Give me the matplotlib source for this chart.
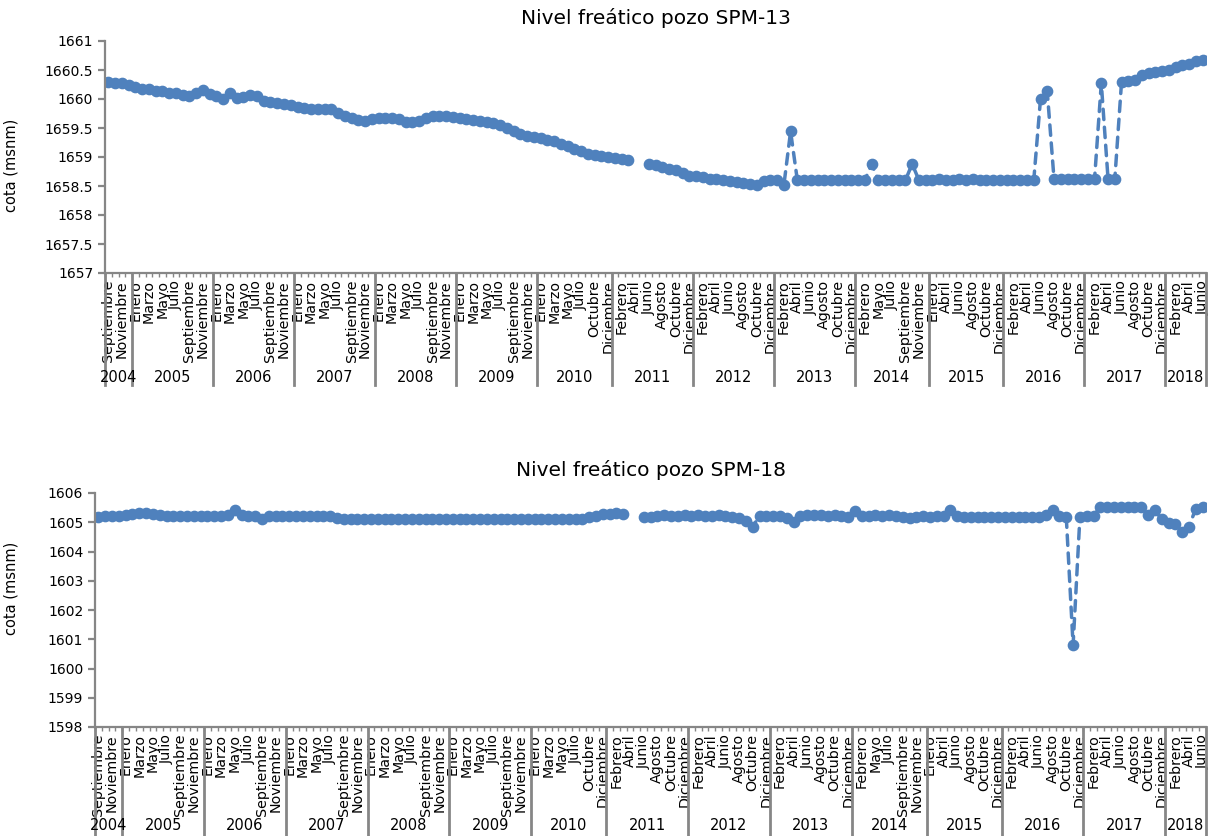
import numpy as np
import matplotlib.pyplot as plt
from matplotlib.ticker import FuncFormatter
from matplotlib.transforms import blended_transform_factory

nan = np.nan

MESES = ['Enero', 'Febrero', 'Marzo', 'Abril', 'Mayo', 'Junio', 'Julio',
         'Agosto', 'Septiembre', 'Octubre', 'Noviembre', 'Diciembre']

# meses con medición en cada año (categorías del eje x)
anios = list(range(2004, 2019))
meses_anio = {a: list(range(1, 13)) for a in anios}
meses_anio[2004] = [9, 10, 11, 12]
meses_anio[2010] = [1, 2, 3, 4, 5, 6, 7, 8, 10, 11, 12]
meses_anio[2014] = [1, 2, 4, 5, 6, 7, 8, 9, 10, 11, 12]
meses_anio[2015] = [1, 3, 4, 5, 6, 7, 8, 9, 10, 11, 12]
meses_anio[2018] = [1, 2, 3, 4, 5, 6]

# cota SPM-13 (msnm), un valor por categoría
spm13 = (
    [1660.29, 1660.28, 1660.27, 1660.24] +                                   # 2004
    [1660.20, 1660.18, 1660.17, 1660.14, 1660.13, 1660.11, 1660.10, 1660.07,
     1660.06, 1660.10, 1660.15, 1660.08] +                                   # 2005
    [1660.06, 1660.00, 1660.10, 1660.02, 1660.04, 1660.07, 1660.05, 1659.96,
     1659.94, 1659.93, 1659.91, 1659.89] +                                   # 2006
    [1659.86, 1659.85, 1659.83, 1659.83, 1659.83, 1659.82, 1659.76, 1659.71,
     1659.68, 1659.63, 1659.62, 1659.66] +                                   # 2007
    [1659.68, 1659.68, 1659.68, 1659.65, 1659.61, 1659.60, 1659.62, 1659.67,
     1659.70, 1659.70, 1659.70, 1659.69] +                                   # 2008
    [1659.67, 1659.65, 1659.64, 1659.62, 1659.60, 1659.58, 1659.55, 1659.50,
     1659.44, 1659.40, 1659.37, 1659.35] +                                   # 2009
    [1659.32, 1659.29, 1659.27, 1659.23, 1659.19, 1659.14, 1659.10, 1659.06,
     1659.03, 1659.01, 1659.00] +                                            # 2010
    [1658.98, 1658.97, 1658.95, nan, nan, 1658.88, 1658.86, 1658.83,
     1658.80, 1658.77, 1658.72, 1658.68] +                                   # 2011
    [1658.68, 1658.65, 1658.62, 1658.62, 1658.60, 1658.58, 1658.57, 1658.55,
     1658.53, 1658.51, 1658.59, 1658.60] +                                   # 2012
    [1658.60, 1658.51, 1659.44, 1658.60, 1658.60, 1658.60, 1658.60, 1658.60,
     1658.60, 1658.60, 1658.60, 1658.60] +                                   # 2013
    [1658.60, 1658.60, 1658.88, 1658.60, 1658.60, 1658.60, 1658.60, 1658.60,
     1658.88, 1658.60, 1658.60] +                                            # 2014
    [1658.60, 1658.62, 1658.60, 1658.61, 1658.62, 1658.60, 1658.62, 1658.61,
     1658.60, 1658.60, 1658.60] +                                            # 2015
    [1658.60, 1658.60, 1658.60, 1658.60, 1658.60, 1660.00, 1660.13, 1658.62,
     1658.62, 1658.62, 1658.62, 1658.62] +                                   # 2016
    [1658.62, 1658.62, 1660.27, 1658.62, 1658.62, 1660.30, 1660.31, 1660.32,
     1660.42, 1660.44, 1660.46, 1660.48] +                                   # 2017
    [1660.50, 1660.55, 1660.58, 1660.60, 1660.65, 1660.67]                   # 2018
)

# cota SPM-18 (msnm)
spm18 = (
    [1605.18, 1605.20, 1605.22, 1605.22] +
    [1605.25, 1605.28, 1605.30, 1605.30, 1605.28, 1605.25, 1605.22, 1605.20,
     1605.20, 1605.20, 1605.20, 1605.20] +
    [1605.20, 1605.20, 1605.20, 1605.25, 1605.42, 1605.25, 1605.22, 1605.20,
     1605.10, 1605.22, 1605.22, 1605.22] +
    [1605.22, 1605.22, 1605.22, 1605.22, 1605.22, 1605.22, 1605.22, 1605.15,
     1605.12, 1605.12, 1605.12, 1605.12] +
    [1605.12] * 12 +
    [1605.12] * 12 +
    [1605.12, 1605.12, 1605.12, 1605.12, 1605.12, 1605.12, 1605.12, 1605.12,
     1605.18, 1605.22, 1605.28] +
    [1605.28, 1605.30, 1605.28, nan, nan, 1605.18, 1605.18, 1605.20,
     1605.25, 1605.22, 1605.20, 1605.25] +
    [1605.20, 1605.25, 1605.20, 1605.22, 1605.25, 1605.20, 1605.18, 1605.15,
     1605.05, 1604.85, 1605.22, 1605.20] +
    [1605.20, 1605.20, 1605.15, 1605.00, 1605.22, 1605.25, 1605.25, 1605.25,
     1605.22, 1605.25, 1605.22, 1605.18] +
    [1605.40, 1605.20, 1605.22, 1605.25, 1605.22, 1605.25, 1605.22, 1605.18,
     1605.15, 1605.18, 1605.20] +
    [1605.18, 1605.20, 1605.22, 1605.42, 1605.20, 1605.18, 1605.18, 1605.18,
     1605.18, 1605.18, 1605.18] +
    [1605.18, 1605.18, 1605.18, 1605.18, 1605.18, 1605.18, 1605.25, 1605.42,
     1605.20, 1605.18, 1600.80, 1605.18] +
    [1605.20, 1605.22, 1605.52, 1605.52, 1605.52, 1605.52, 1605.52, 1605.52,
     1605.52, 1605.24, 1605.41, 1605.10] +
    [1604.98, 1604.95, 1604.67, 1604.84, 1605.47, 1605.52]
)

AZUL = '#4F81BD'
GRIS = '#868686'

plt.rcParams['font.family'] = 'DejaVu Sans'

# lista plana de categorías
cat_anio, cat_mes = [], []
for a in anios:
    for m in meses_anio[a]:
        cat_anio.append(a)
        cat_mes.append(m)
n = len(cat_mes)
x = np.arange(n)


def dibujar(ax, y, titulo, ylim, paso, sep_bajo, y_anio, ylab_pos):
    ax.plot(x, y, color=AZUL, lw=2.5, linestyle=(0, (3, 2.2)),
            dash_capstyle='round', marker='o', ms=7.4, mec=AZUL, mfc=AZUL)
    ax.set_xlim(-0.5, n - 0.5)
    ax.set_ylim(*ylim)
    ax.set_yticks(np.arange(ylim[0], ylim[1] + paso / 2, paso))
    ax.yaxis.set_major_formatter(FuncFormatter(lambda v, p: f'{v:g}'))

    for s in ['top', 'right']:
        ax.spines[s].set_visible(False)
    for s in ['left', 'bottom']:
        ax.spines[s].set_color(GRIS)
        ax.spines[s].set_linewidth(1.6)
    ax.tick_params(axis='y', colors=GRIS, labelcolor='black', labelsize=10,
                   length=5, width=1.6)

    # etiquetas de mes cada dos categorías
    ax.set_xticks(x[::2])
    ax.set_xticklabels([MESES[m - 1] for m in cat_mes[::2]], rotation=90,
                       ha='center', va='top', fontsize=10.3)
    ax.tick_params(axis='x', which='major', length=0, pad=5)
    ax.set_xticks(np.arange(-0.5, n, 1), minor=True)
    ax.tick_params(axis='x', which='minor', length=3, width=1, colors=GRIS)

    # separadores y rótulos de año
    tr = blended_transform_factory(ax.transData, ax.transAxes)
    bordes = [-0.5]
    for a in anios:
        bordes.append(bordes[-1] + len(meses_anio[a]))
    for b in bordes:
        ax.plot([b, b], [0, sep_bajo], transform=tr, color=GRIS, lw=2,
                clip_on=False)
    for a, b0, b1 in zip(anios, bordes[:-1], bordes[1:]):
        ax.text((b0 + b1) / 2, y_anio, str(a), transform=tr, ha='center',
                va='center', fontsize=10.5)

    ax.set_title(titulo, fontsize=14.5, pad=12)
    ax.set_ylabel('cota (msnm)', fontsize=10.5)
    ax.yaxis.set_label_coords(*ylab_pos)


fig = plt.figure(figsize=(12.14, 8.36), dpi=100)
ax1 = fig.add_axes([105 / 1214, 1 - 273 / 836, 1101 / 1214, 232 / 836])
ax2 = fig.add_axes([95 / 1214, 1 - 727 / 836, 1111 / 1214, 234 / 836])

dibujar(ax1, spm13, 'Nivel freático pozo SPM-13', (1657, 1661), 0.5,
        -112 / 232, -104 / 232, (-0.079, 0.465))
dibujar(ax2, spm18, 'Nivel freático pozo SPM-18', (1598, 1606), 1,
        -112 / 234, -99 / 234, (-0.069, 0.594))

fig.savefig('out.png', dpi=100)
